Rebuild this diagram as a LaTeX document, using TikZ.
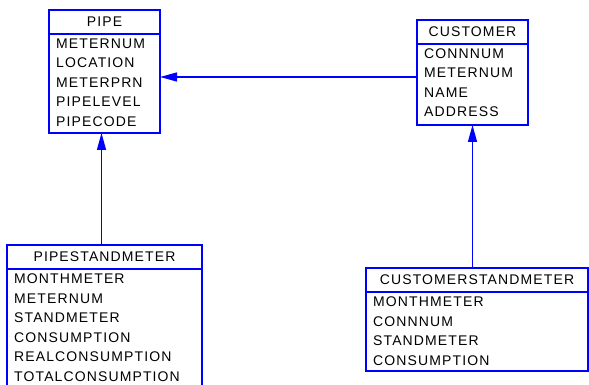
\documentclass[tikz,border=0pt]{standalone}
\usepackage{fontspec}
\usepackage{tikz}
\usetikzlibrary{arrows.meta}
\newfontfamily\entfont{Liberation Sans}[LetterSpace=8]
\definecolor{entblue}{RGB}{0,0,255}

\tikzset{
  enthead/.style={draw=entblue, line width=1.2pt, minimum height=24pt, inner sep=0pt, outer sep=0pt,
    anchor=north west, font=\entfont\fontsize{14}{16}\selectfont},
  entbody/.style={draw=entblue, line width=1.2pt, inner sep=0pt, outer sep=0pt, anchor=north west},
  entrow/.style={anchor=base west, inner sep=0pt, font=\entfont\fontsize{14}{16}\selectfont},
}

\begin{document}
\begin{tikzpicture}[x=1pt,y=-1pt,>={Triangle[length=17pt,width=9pt]}]
		  \useasboundingbox (0,0) rectangle (589,385);
		  % PIPE
		  \node[enthead, minimum width=111pt] (pipe) at (49,10) {PIPE};
		  \node[entbody, minimum width=111pt, minimum height=99pt] (pipeattr) at (pipe.south west) {};
		  \foreach \f [count=\i] in {METERNUM,LOCATION,METERPRN,PIPELEVEL,PIPECODE}
		    \node[entrow] (pipe-\i) at ([xshift=7pt,yshift={5pt-\i*19.5pt}]pipeattr.north west) {\f};
		  % CUSTOMER
		  \node[enthead, minimum width=111pt] (cust) at (417,20) {CUSTOMER};
		  \node[entbody, minimum width=111pt, minimum height=81pt] (custattr) at (cust.south west) {};
		  \foreach \f [count=\i] in {CONNNUM,METERNUM,NAME,ADDRESS}
		    \node[entrow] (cust-\i) at ([xshift=7pt,yshift={5pt-\i*19.5pt}]custattr.north west) {\f};
		  % PIPESTANDMETER
		  \node[enthead, minimum width=195pt] (pstand) at (7,245) {PIPESTANDMETER};
		  \node[entbody, minimum width=195pt, minimum height=121pt] (pstandattr) at (pstand.south west) {};
		  \foreach \f [count=\i] in {MONTHMETER,METERNUM,STANDMETER,CONSUMPTION,REALCONSUMPTION,TOTALCONSUMPTION}
		    \node[entrow] (pstand-\i) at ([xshift=7pt,yshift={5pt-\i*19.5pt}]pstandattr.north west) {\f};
		  % CUSTOMERSTANDMETER
		  \node[enthead, minimum width=222pt] (cstand) at (366,268) {CUSTOMERSTANDMETER};
		  \node[entbody, minimum width=222pt, minimum height=79pt] (cstandattr) at (cstand.south west) {};
		  \foreach \f [count=\i] in {MONTHMETER,CONNNUM,STANDMETER,CONSUMPTION}
		    \node[entrow] (cstand-\i) at ([xshift=7pt,yshift={5pt-\i*19.5pt}]cstandattr.north west) {\f};
		  % relations
		  \draw[->, draw=entblue, fill=entblue, line width=1.4pt] ([yshift=7.5pt]custattr.west) -- ([yshift=7.5pt]custattr.west -| pipeattr.east);
		  \draw[->, draw=entblue, fill=entblue, line width=1.4pt] ([xshift=-3pt]pstand.north) -- ([xshift=-3pt]pipeattr.south);
		  \draw[->, draw=entblue, fill=entblue, line width=1.4pt] (cstand.north -| custattr.south) -- (custattr.south);
		\end{tikzpicture}
\end{document}
